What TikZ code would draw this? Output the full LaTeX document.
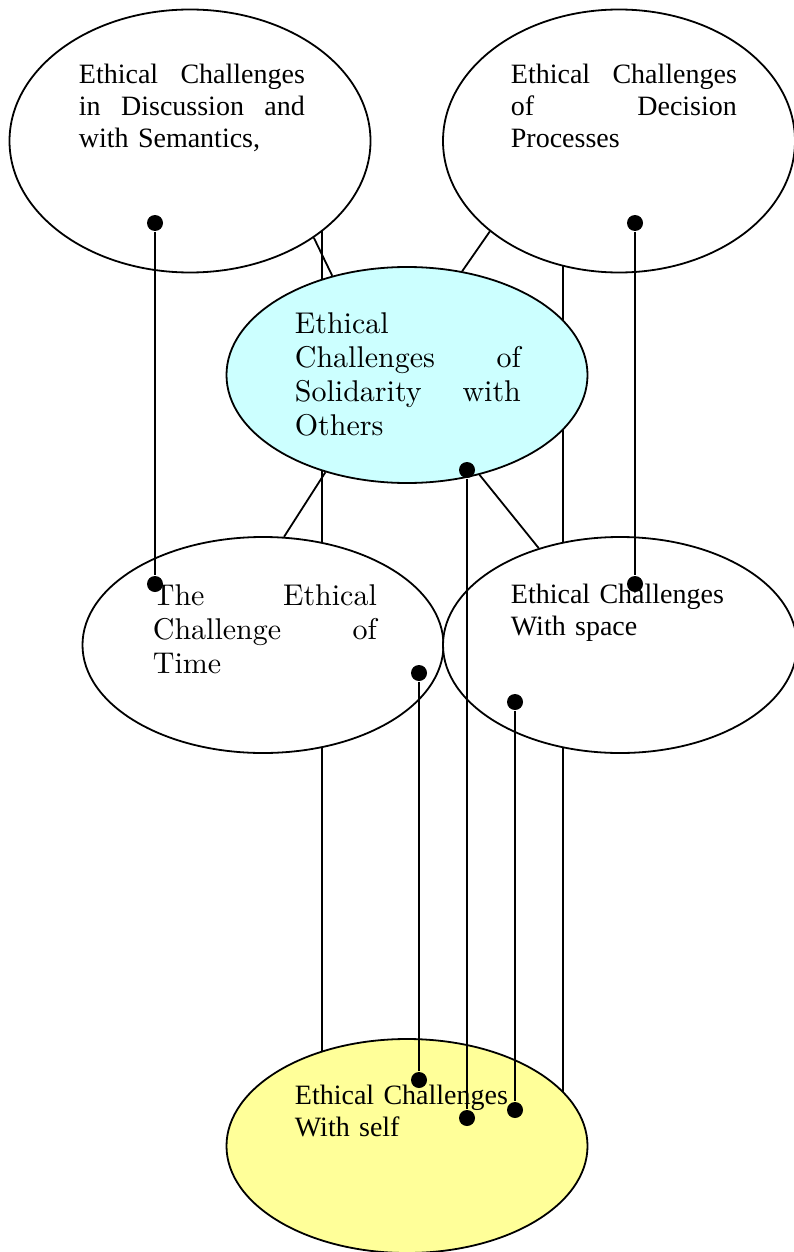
\documentclass[tikz,border=0pt]{standalone}
\usepackage{fontspec}
\newfontfamily\tnr{Liberation Serif}
\newfontfamily\cmten{lmroman10-regular.otf}
\usetikzlibrary{shapes.geometric, backgrounds}
\definecolor{paleblue}{HTML}{CCFFFF}
\definecolor{paleyellow}{HTML}{FFFF99}
\setlength{\parindent}{0pt}
\tikzset{
  every picture/.style={line width=1.8pt, x=1pt, y=-1pt},
  bubble/.style={draw, ellipse, fill=#1, inner sep=0pt, minimum width=361pt, minimum height=216pt},
  bubble/.default=white,
  serif/.style={font=\tnr\fontsize{28}{32}\selectfont, align=left, inner sep=0pt, anchor=north west},
  modern/.style={font=\cmten\fontsize{30}{34}\selectfont, align=left, inner sep=0pt, anchor=north west},
  dot/.style={circle, fill=black, inner sep=0pt, minimum size=16pt},
  link/.style={draw=black, line width=1.8pt},
}
% one justified line
\newcommand{\just}[2]{\makebox[#1][s]{\spaceskip=0.25em plus 1fil\relax #2}}

\begin{document}
\begin{tikzpicture}
  \useasboundingbox (0,0) rectangle (794,1252);
  \node[bubble, minimum height=263pt] (disc) at (190,141) {};
  \node[bubble, minimum width=352pt, minimum height=263pt] (decision) at (619,141) {};
  \node[bubble=paleblue] (solidarity) at (407,375) {};
  \node[bubble] (time) at (263,645) {};
  \node[bubble, minimum width=354pt] (space) at (620,645) {};
  \node[bubble=paleyellow, minimum height=214pt] (self) at (407,1146) {};
  \node[serif, text width=226pt] (disc-txt) at (78,63) {\just{226pt}{Ethical Challenges}\\ \just{226pt}{in Discussion and}\\ with Semantics,};
  \node[serif, text width=226pt] (decision-txt) at (510,63) {\just{226pt}{Ethical Challenges}\\ \just{226pt}{of Decision}\\ Processes};
  \node[modern, text width=226pt] (solidarity-txt) at (294,312) {Ethical\\ \just{226pt}{Challenges of}\\ \just{226pt}{Solidarity with}\\ Others};
  \node[modern, text width=224pt] (time-txt) at (152,584) {\just{224pt}{The Ethical}\\ \just{224pt}{Challenge of}\\ Time};
  \node[serif, text width=226pt] (space-txt) at (510,583) {Ethical Challenges\\ With space};
  \node[serif, text width=226pt] (self-txt) at (294,1084) {Ethical Challenges\\ With self};
  % plain links behind the bubbles
  \coordinate (railA) at (322,0);
  \coordinate (railB) at (563,0);
  \begin{scope}[on background layer]
    \draw[link] (disc.-38) -- (solidarity.127);
    \draw[link] (decision.-145) -- (solidarity.62);
    \draw[link] (solidarity.230) -- (time.79);
    \draw[link] (solidarity.-54) -- (space.130);
    \draw[link] (disc -| railA) -- (self -| railA);
    \draw[link] (decision -| railB) -- (self -| railB);
  \end{scope}
  % pin links on top
  \node[dot] (disc-dot) at (155,223) {};
  \node[dot] (decision-dot) at (635,223) {};
  \node[dot] (solidarity-dot) at (467,470) {};
  \node[dot] (time-dot-a) at (155,584) {};
  \node[dot] (time-dot-b) at (419,673) {};
  \node[dot] (space-dot-a) at (635,584) {};
  \node[dot] (space-dot-b) at (515,702) {};
  \node[dot] (self-dot-a) at (419,1080) {};
  \node[dot] (self-dot-b) at (467,1118) {};
  \node[dot] (self-dot-c) at (515,1110) {};
  \foreach \a/\b in {disc-dot/time-dot-a, decision-dot/space-dot-a, solidarity-dot/self-dot-b, time-dot-b/self-dot-a, space-dot-b/self-dot-c}
    \draw[link] (\a) -- (\b);
\end{tikzpicture}
\end{document}
